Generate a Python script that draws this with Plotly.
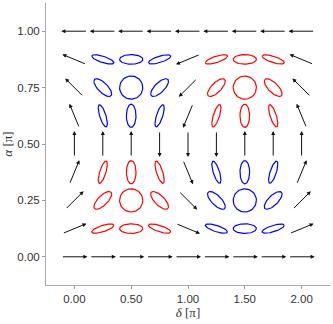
import numpy as np
import plotly.graph_objects as go

# grid of polarization states (units of pi)
delta = [0.0, 0.25, 0.5, 0.75, 1.0, 1.25, 1.5, 1.75, 2.0]
alpha = [0.0, 0.125, 0.25, 0.375, 0.5, 0.625, 0.75, 0.875, 1.0]
# direction of the vertical arrows in the alpha = 0.5 row (+1 up, -1 down)
mid_row_sign = [1, 1, 1, -1, -1, -1, 1, 1, 1]

x_ticks = [0.0, 0.5, 1.0, 1.5, 2.0]
y_ticks = [0.0, 0.25, 0.5, 0.75, 1.0]

# pixels per data unit (plot area 284 x 282 px)
sx = 284 / 2.5
sy = 282 / 1.25
r_ell = 11.6   # semi-major axis of ellipses, px
r_arr = 13.0   # half length of arrows, px

fig = go.Figure()
t = np.linspace(0, 2 * np.pi, 80)
red_x, red_y, blue_x, blue_y = [], [], [], []
arrows = []

for j, a in enumerate(alpha):
    for i, d in enumerate(delta):
        ar, dr = a * np.pi, d * np.pi
        linear = (d in (0.0, 1.0, 2.0)) or (a in (0.0, 0.5, 1.0))
        if linear:
            if a == 0.5:
                ux, uy = 0.0, float(mid_row_sign[i])
            else:
                ux, uy = np.cos(ar), np.sin(ar) * np.cos(dr)
                n = np.hypot(ux, uy)
                ux, uy = ux / n, uy / n
            arrows.append((d, a, ux, uy))
            continue
        ex = np.cos(ar) * np.cos(t)
        ey = np.sin(ar) * np.cos(t - dr)
        m = np.max(np.hypot(ex, ey))
        px = d + ex / m * r_ell / sx
        py = a + ey / m * r_ell / sy
        helicity = np.sin(2 * ar) * np.sin(dr)
        if helicity > 0:
            red_x += list(px) + [None]
            red_y += list(py) + [None]
        else:
            blue_x += list(px) + [None]
            blue_y += list(py) + [None]

fig.add_trace(go.Scatter(x=red_x, y=red_y, mode='lines', line=dict(color='red', width=1.2), hoverinfo='skip'))
fig.add_trace(go.Scatter(x=blue_x, y=blue_y, mode='lines', line=dict(color='blue', width=1.2), hoverinfo='skip'))

for d, a, ux, uy in arrows:
    fig.add_annotation(
        x=d + ux * r_arr / sx, y=a + uy * r_arr / sy,
        ax=d - ux * r_arr / sx, ay=a - uy * r_arr / sy,
        xref='x', yref='y', axref='x', ayref='y',
        text='', showarrow=True, arrowhead=2, arrowsize=0.8, arrowwidth=1,
        arrowcolor='#111111', standoff=0, startstandoff=0,
    )

axis_style = dict(
    showgrid=False, zeroline=False, showline=True, linecolor='#aaaaaa', linewidth=1,
    ticks='outside', ticklen=3, tickcolor='#999999', tickformat='.2f', automargin=False,
    tickfont=dict(family='Liberation Sans, Arial', size=11.5, color='#333333'),
)
fig.update_xaxes(range=[-0.25, 2.25], tickvals=x_ticks,
                 title=dict(text='<i>δ</i> [π]', font=dict(family='Liberation Serif', size=13, color='#333333'), standoff=4),
                 **axis_style)
fig.update_yaxes(range=[-0.125, 1.125], tickvals=y_ticks,
                 title=dict(text='<i>α</i> [π]', font=dict(family='Liberation Serif', size=13, color='#333333'), standoff=2),
                 **axis_style)

fig.update_layout(
    width=333, height=324, showlegend=False,
    margin=dict(l=46, r=3, t=3, b=39),
    plot_bgcolor='white', paper_bgcolor='white',
)
# page body has a default 8px margin; remove it so the figure fills the window
fig.write_html("out.html", config={'displayModeBar': False},
               post_script="document.body.style.margin='0';")
